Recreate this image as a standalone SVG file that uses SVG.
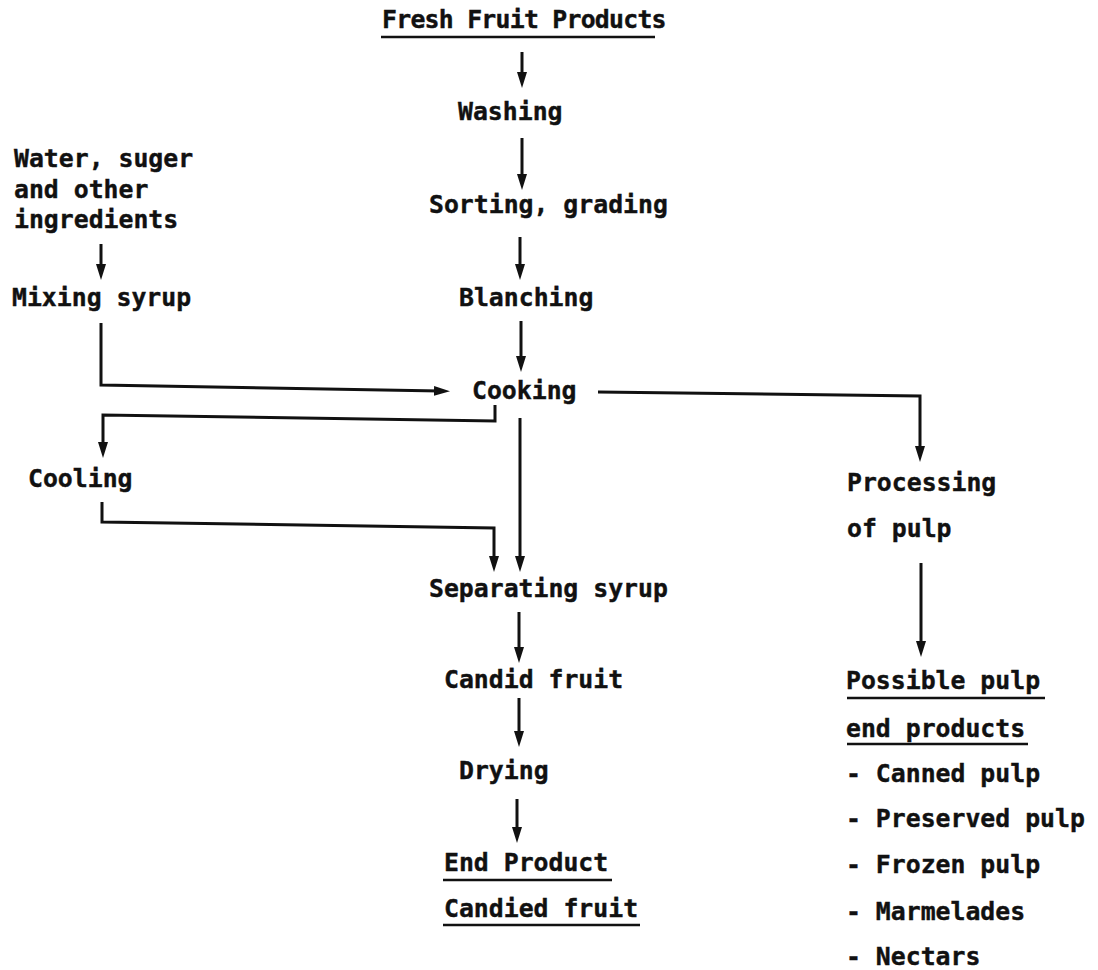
<svg xmlns="http://www.w3.org/2000/svg" width="1098" height="970" viewBox="0 0 1098 970">
  <style>
    .t { font-family: "DejaVu Sans Mono", "Liberation Mono", monospace; font-weight: bold; font-size: 24.8px; fill: #111; stroke: #111; stroke-width: 0.4; }
    .u { stroke: #111; stroke-width: 2.6; fill: none; }
    .c { stroke: #111; stroke-width: 3; fill: none; stroke-linejoin: miter; }
    .a { marker-end: url(#arrow); }
  </style>
  <defs>
    <marker id="arrow" markerUnits="userSpaceOnUse" viewBox="0 0 16 11" markerWidth="16" markerHeight="11" refX="6" refY="5.5" orient="auto">
      <path d="M0,0.5 L16,5.5 L0,10.5 Z" fill="#111"/>
    </marker>
  </defs>
  <rect width="1098" height="970" fill="#fff"/>

  <!-- main column -->
  <g id="fresh-fruit">
    <text class="t" x="382" y="28" textLength="284.5" lengthAdjust="spacing">Fresh Fruit Products</text>
    <line class="u" x1="381" y1="37" x2="655" y2="37"/>
  </g>
  <g id="washing"><text class="t" x="458" y="120">Washing</text></g>
  <g id="sorting"><text class="t" x="429" y="213">Sorting, grading</text></g>
  <g id="blanching"><text class="t" x="459" y="306">Blanching</text></g>
  <g id="cooking"><text class="t" x="472" y="399">Cooking</text></g>
  <g id="separating"><text class="t" x="429" y="597">Separating syrup</text></g>
  <g id="candid"><text class="t" x="444" y="688">Candid fruit</text></g>
  <g id="drying"><text class="t" x="459" y="779">Drying</text></g>
  <g id="end-product">
    <text class="t" x="444" y="871">End Product</text>
    <line class="u" x1="443" y1="880" x2="612" y2="880"/>
    <text class="t" x="444" y="917">Candied fruit</text>
    <line class="u" x1="443" y1="925" x2="640" y2="925"/>
  </g>

  <!-- syrup branch -->
  <g id="ingredients">
    <text class="t" x="14" y="167">Water, suger</text>
    <text class="t" x="14" y="198">and other</text>
    <text class="t" x="14" y="228">ingredients</text>
  </g>
  <g id="mixing"><text class="t" x="12" y="306">Mixing syrup</text></g>
  <g id="cooling"><text class="t" x="28" y="487">Cooling</text></g>

  <!-- pulp branch -->
  <g id="processing">
    <text class="t" x="847" y="491">Processing</text>
    <text class="t" x="847" y="537">of pulp</text>
  </g>
  <g id="pulp-products">
    <text class="t" x="846" y="689">Possible pulp</text>
    <line class="u" x1="847" y1="698" x2="1045" y2="698"/>
    <text class="t" x="846" y="737">end products</text>
    <line class="u" x1="847" y1="744" x2="1028" y2="744"/>
    <text class="t" x="846" y="782">- Canned pulp</text>
    <text class="t" x="846" y="827">- Preserved pulp</text>
    <text class="t" x="846" y="873">- Frozen pulp</text>
    <text class="t" x="846" y="920">- Marmelades</text>
    <text class="t" x="846" y="965">- Nectars</text>
  </g>

  <g id="connectors">
    <path class="c a" d="M522,52 V78"/>
    <path class="c a" d="M522,138 V180"/>
    <path class="c a" d="M520,237 V270"/>
    <path class="c a" d="M521,321 V362"/>
    <path class="c a" d="M101,244 V270"/>
    <path class="c a" d="M101,323 V385 L440,391"/>
    <path class="c a" d="M495,405 V421 L103,415 V448"/>
    <path class="c a" d="M520,418 V562"/>
    <path class="c a" d="M102,502 V522 L494,528 V562"/>
    <path class="c a" d="M598,392 L920,396 V452"/>
    <path class="c a" d="M519,612 V653"/>
    <path class="c a" d="M519,698 V737"/>
    <path class="c a" d="M517,799 V833"/>
    <path class="c a" d="M921,563 V647"/>
  </g>
</svg>
